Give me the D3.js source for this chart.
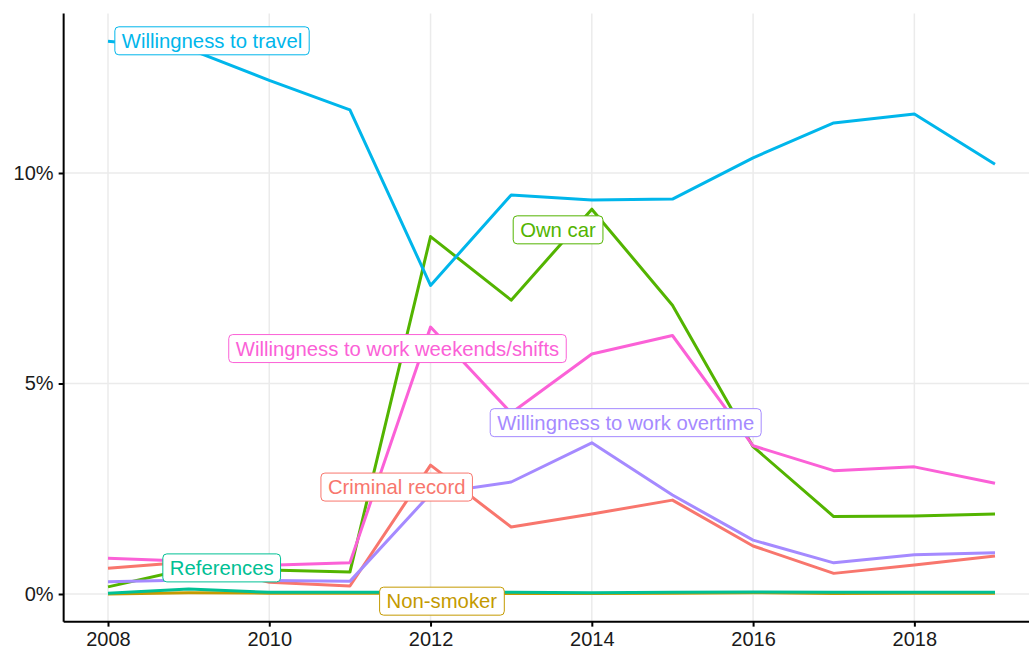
<!DOCTYPE html>
<html>
<head>
<meta charset="utf-8">
<script src="https://cdn.jsdelivr.net/npm/d3@7"></script>
<style>
  body { margin: 0; background: #fff; }
  text { font-family: "Liberation Sans", Arial, sans-serif; }
</style>
</head>
<body>
<script>
// Years on the x axis
const years = [2008, 2009, 2010, 2011, 2012, 2013, 2014, 2015, 2016, 2017, 2018, 2019];

// Share of job ads mentioning each requirement (%)
const criminalRecord = [0.61, 0.76, 0.28, 0.19, 3.06, 1.59, 1.90, 2.23, 1.14, 0.49, 0.69, 0.90];
const nonSmoker      = [0.00, 0.03, 0.02, 0.02, 0.02, 0.01, 0.01, 0.02, 0.03, 0.01, 0.02, 0.02];
const ownCar         = [0.17, 0.60, 0.57, 0.52, 8.49, 6.98, 9.14, 6.86, 3.50, 1.84, 1.85, 1.90];
const references     = [0.02, 0.12, 0.04, 0.04, 0.04, 0.04, 0.03, 0.04, 0.05, 0.04, 0.04, 0.04];
const travel         = [13.13, 12.95, 12.20, 11.50, 7.33, 9.48, 9.36, 9.38, 10.36, 11.19, 11.40, 10.21];
const overtime       = [0.29, 0.33, 0.32, 0.30, 2.38, 2.66, 3.59, 2.35, 1.28, 0.74, 0.93, 0.98];
const weekends       = [0.85, 0.78, 0.68, 0.74, 6.34, 4.30, 5.70, 6.14, 3.52, 2.93, 3.02, 2.63];

const seriesNames = [
  "Criminal record", "Non-smoker", "Own car", "References",
  "Willingness to travel", "Willingness to work overtime",
  "Willingness to work weekends/shifts"
];
const seriesValues = [criminalRecord, nonSmoker, ownCar, references, travel, overtime, weekends];
const seriesColors = ["#F8766D", "#C49A00", "#53B400", "#00C094", "#00B6EB", "#A58AFF", "#FB61D7"];

// Where the repelled labels ended up, in data units (year, %)
const labelYear = [2011.58, 2012.14, 2013.58, 2009.41, 2009.29, 2014.42, 2011.59];
const labelPct  = [2.54, -0.17, 8.65, 0.62, 13.14, 4.07, 5.83];

const xTicks = [2008, 2010, 2012, 2014, 2016, 2018];
const yTicks = [0, 5, 10];

const width = 1029, height = 652;

const svg = d3.select("body").append("svg")
  .attr("width", width)
  .attr("height", height);

const x = d3.scaleLinear().domain([2008, 2019]).range([108, 995]);
const y = d3.scaleLinear().domain([0, 10]).range([594, 173]);

// panel limits = data range expanded by 5% on each side (ggplot style)
const allVals = seriesValues.flat();
const vMin = d3.min(allVals), vMax = d3.max(allVals);
const yPad = (vMax - vMin) * 0.05;
const panelLeft = x(2008 - 0.55);
const panelRight = width;
const panelTop = y(vMax + yPad);
const panelBottom = y(vMin - yPad);

// Grid lines
const grid = svg.append("g");
grid.selectAll(".gx").data(xTicks).enter().append("line")
  .attr("x1", d => x(d)).attr("x2", d => x(d))
  .attr("y1", panelTop).attr("y2", panelBottom)
  .attr("stroke", "#EBEBEB").attr("stroke-width", 1.5);
grid.selectAll(".gy").data(yTicks).enter().append("line")
  .attr("x1", panelLeft).attr("x2", panelRight)
  .attr("y1", d => y(d)).attr("y2", d => y(d))
  .attr("stroke", "#EBEBEB").attr("stroke-width", 1.5);

// Lines
const line = d3.line()
  .x((d, i) => x(years[i]))
  .y(d => y(d));

svg.append("g").selectAll("path")
  .data(seriesValues)
  .enter()
  .append("path")
  .attr("d", d => line(d))
  .attr("fill", "none")
  .attr("stroke", (d, i) => seriesColors[i])
  .attr("stroke-width", 3)
  .attr("stroke-linejoin", "round");

// Axes
const xAxis = svg.append("g")
  .attr("transform", `translate(0,${panelBottom})`)
  .call(d3.axisBottom(x).tickValues(xTicks).tickFormat(d3.format("d")).tickSize(5).tickPadding(5));
xAxis.select(".domain").attr("d", `M${panelLeft},0H${panelRight}`);

const yAxis = svg.append("g")
  .attr("transform", `translate(${panelLeft},0)`)
  .call(d3.axisLeft(y).tickValues(yTicks).tickFormat(d => d + "%").tickSize(5).tickPadding(5));
yAxis.select(".domain").attr("d", `M0,${panelTop}V${panelBottom}`);

svg.selectAll(".domain, .tick line")
  .attr("stroke", "#000")
  .attr("stroke-width", 2);
svg.selectAll(".tick text")
  .attr("fill", "#1a1a1a")
  .style("font-size", "20px")
  .style("font-family", "'Liberation Sans', Arial, sans-serif");

// Labels
const labels = svg.append("g").selectAll("g")
  .data(seriesNames)
  .enter()
  .append("g")
  .attr("transform", (d, i) => `translate(${x(labelYear[i])},${y(labelPct[i])})`);

labels.append("text")
  .attr("text-anchor", "middle")
  .attr("dy", "0.36em")
  .attr("fill", (d, i) => seriesColors[i])
  .style("font-size", "20.3px")
  .text(d => d);

labels.each(function (d, i) {
  const g = d3.select(this);
  const bb = g.select("text").node().getBBox();
  g.insert("rect", "text")
    .attr("x", bb.x - 7)
    .attr("y", -14)
    .attr("width", bb.width + 14)
    .attr("height", 28)
    .attr("rx", 4)
    .attr("fill", "#fff")
    .attr("stroke", seriesColors[i])
    .attr("stroke-width", 1);
});
</script>
</body>
</html>
